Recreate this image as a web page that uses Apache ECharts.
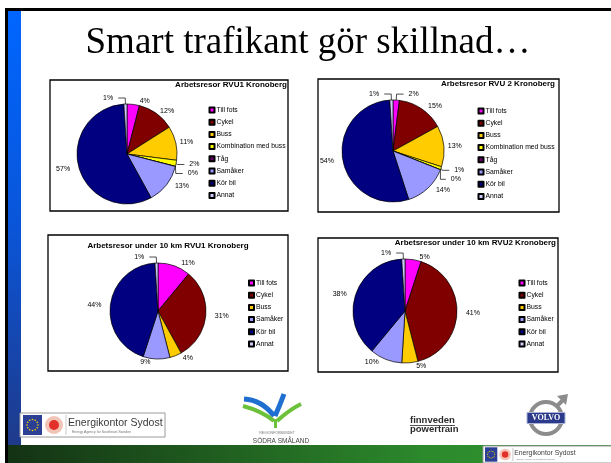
<!DOCTYPE html>
<html>
<head>
<meta charset="utf-8">
<script src="https://cdn.jsdelivr.net/npm/echarts@6/dist/echarts.min.js"></script>
<style>
  html, body { margin: 0; padding: 0; background: #fff; }
  #slide { width: 611px; height: 463px; }
</style>
</head>
<body>
<div id="slide"></div>
<script>
// Texter
const slideTitle = 'Smart trafikant gör skillnad…'
const chartTitles = [
  'Arbetsresor RVU1 Kronoberg',
  'Arbetsresor RVU 2 Kronoberg',
  'Arbetsresor under 10 km RVU1 Kronoberg',
  'Arbetsresor under 10 km RVU2 Kronoberg'
]

// Kategorier
const modesAll = ['Till fots', 'Cykel', 'Buss', 'Kombination med buss', 'Tåg', 'Samåker', 'Kör bil', 'Annat']
const modesShort = ['Till fots', 'Cykel', 'Buss', 'Samåker', 'Kör bil', 'Annat']

// Andelar i procent
const rvu1All = [4, 12, 11, 2, 0, 13, 57, 1]
const rvu2All = [2, 15, 13, 1, 0, 14, 54, 1]
const rvu1Short = [11, 31, 4, 9, 44, 1]
const rvu2Short = [5, 41, 5, 10, 38, 1]

const modeColors = {
  'Till fots': '#ff00ff',
  'Cykel': '#800000',
  'Buss': '#ffcc00',
  'Kombination med buss': '#ffff00',
  'Tåg': '#660066',
  'Samåker': '#9999ff',
  'Kör bil': '#000080',
  'Annat': '#ccccff'
}

const sans = 'Liberation Sans, Arial, sans-serif'

const makeData = (names, values) => names.map((name, i) => ({
  name,
  value: values[i],
  itemStyle: { color: modeColors[name] },
  labelLine: values[i] <= 2
    ? { show: true, length: 6, length2: 7 }
    : { show: false, length: 3, length2: 1 }
}))

const makePie = (center, radius, names, values) => ({
  type: 'pie',
  center,
  radius,
  startAngle: 90,
  clockwise: true,
  data: makeData(names, values),
  itemStyle: { borderColor: '#000', borderWidth: 0.7 },
  label: {
    position: 'outside',
    formatter: '{c}%',
    fontSize: 7,
    fontFamily: sans,
    color: '#000'
  },
  labelLine: { lineStyle: { color: '#000', width: 0.7 } },
  emphasis: { disabled: true },
  silent: true
})

const makeLegend = (left, top, names) => ({
  orient: 'vertical',
  left,
  top,
  padding: 0,
  data: names,
  icon: 'rect',
  itemWidth: 5,
  itemHeight: 5,
  itemGap: 2.2,
  selectedMode: false,
  textStyle: { fontSize: 6.8, fontFamily: sans, color: '#000', lineHeight: 10, padding: [0, 0, 0, -3] }
})

const chartTitleStyle = { fontSize: 8, fontWeight: 'bold', fontFamily: sans, color: '#000' }

// Energikontor-logga (EU-flagga, röd cirkel, text)
const energiLogo = (x, y, w, h, s) => {
  const items = []
  items.push({ type: 'rect', shape: { x, y, width: w, height: h }, style: { fill: '#fff', stroke: '#9a9a9a', lineWidth: 1 } })
  const fx = x + 3 * s, fy = y + 2 * s, fw = 19 * s, fh = h - 4 * s
  items.push({ type: 'rect', shape: { x: fx, y: fy, width: fw, height: fh }, style: { fill: '#2b3f95' } })
  for (let k = 0; k < 12; k++) {
    const a = k * Math.PI / 6
    items.push({ type: 'circle', shape: { cx: fx + fw / 2 + Math.cos(a) * 5.5 * s, cy: fy + fh / 2 + Math.sin(a) * 5.5 * s, r: 0.8 * s }, style: { fill: '#ffd800' } })
  }
  const cx = fx + fw + 12 * s, cy = y + h / 2
  items.push({ type: 'circle', shape: { cx, cy, r: 9 * s }, style: { fill: '#f2c4b6' } })
  items.push({ type: 'circle', shape: { cx, cy, r: 5 * s }, style: { fill: '#e2302b' } })
  items.push({ type: 'line', shape: { x1: cx + 12 * s, y1: y + 2, x2: cx + 12 * s, y2: y + h - 2 }, style: { stroke: '#bbb', lineWidth: 0.8 } })
  items.push({ type: 'text', x: cx + 14 * s, y: cy - 2 * s, style: { text: 'Energikontor Sydost', fill: '#3a3a3a', fontSize: 10.5 * s, fontFamily: sans, verticalAlign: 'middle' } })
  items.push({ type: 'text', x: cx + 18 * s, y: cy + 7 * s, style: { text: 'Energy Agency for Southeast Sweden', fill: '#777', fontSize: 3.5 * s, fontFamily: sans, verticalAlign: 'middle' } })
  return items
}

const chart = echarts.init(document.getElementById('slide'), null, { renderer: 'canvas' })

const graphics = [
  // ram och färgband
  { type: 'rect', shape: { x: 5, y: 8, width: 606, height: 3 }, style: { fill: '#000' } },
  { type: 'rect', shape: { x: 5, y: 8, width: 3, height: 455 }, style: { fill: '#000' } },
  {
    type: 'rect', shape: { x: 8, y: 11, width: 13, height: 434 },
    style: { fill: new echarts.graphic.LinearGradient(0, 0, 0, 1, [{ offset: 0, color: '#0066ff' }, { offset: 0.5, color: '#0a55d8' }, { offset: 1, color: '#1f3a8a' }]) }
  },
  {
    type: 'rect', shape: { x: 8, y: 445, width: 603, height: 18 },
    style: { fill: new echarts.graphic.LinearGradient(0, 0, 1, 0, [{ offset: 0, color: '#143214' }, { offset: 0.7, color: '#2c8a2c' }, { offset: 1, color: '#32952f' }]) }
  },
  // diagramramar
  { type: 'rect', z: -1, shape: { x: 50, y: 80, width: 238, height: 131 }, style: { fill: '#fff', stroke: '#000', lineWidth: 1.3 } },
  { type: 'rect', z: -1, shape: { x: 318, y: 79, width: 241, height: 133 }, style: { fill: '#fff', stroke: '#000', lineWidth: 1.3 } },
  { type: 'rect', z: -1, shape: { x: 48, y: 235, width: 240, height: 136 }, style: { fill: '#fff', stroke: '#000', lineWidth: 1.3 } },
  { type: 'rect', z: -1, shape: { x: 318, y: 238, width: 240, height: 134 }, style: { fill: '#fff', stroke: '#000', lineWidth: 1.3 } },
  // Södra Småland
  { type: 'bezierCurve', shape: { x1: 244, y1: 399, x2: 274, y2: 416, cpx1: 262, cpy1: 400 }, style: { stroke: '#1f6fd0', lineWidth: 5, fill: null } },
  { type: 'bezierCurve', shape: { x1: 284, y1: 394, x2: 275, y2: 416, cpx1: 280, cpy1: 405 }, style: { stroke: '#1f6fd0', lineWidth: 5, fill: null } },
  { type: 'bezierCurve', shape: { x1: 243, y1: 406, x2: 274, y2: 421, cpx1: 262, cpy1: 411 }, style: { stroke: '#6cc13a', lineWidth: 4, fill: null } },
  { type: 'bezierCurve', shape: { x1: 301, y1: 404, x2: 277, y2: 421, cpx1: 289, cpy1: 410 }, style: { stroke: '#6cc13a', lineWidth: 4, fill: null } },
  { type: 'line', shape: { x1: 275.5, y1: 419, x2: 275.5, y2: 428 }, style: { stroke: '#6cc13a', lineWidth: 3 } },
  { type: 'text', x: 277, y: 433, style: { text: 'REGIONFÖRBUNDET', fill: '#777', fontSize: 3.5, fontFamily: sans, align: 'center', verticalAlign: 'middle' } },
  { type: 'text', x: 281, y: 441, style: { text: 'SÖDRA SMÅLAND', fill: '#444', fontSize: 6.5, fontFamily: sans, align: 'center', verticalAlign: 'middle' } },
  // finnveden powertrain
  { type: 'text', x: 410, y: 420.5, style: { text: 'finnveden', fill: '#2a2a2a', fontSize: 9.5, fontWeight: 'bold', fontFamily: sans, verticalAlign: 'middle' } },
  { type: 'line', shape: { x1: 410, y1: 425.5, x2: 455, y2: 425.5 }, style: { stroke: '#2a2a2a', lineWidth: 0.8 } },
  { type: 'text', x: 410, y: 429.5, style: { text: 'powertrain', fill: '#2a2a2a', fontSize: 9.5, fontWeight: 'bold', fontFamily: sans, verticalAlign: 'middle' } },
  // Volvo
  { type: 'circle', shape: { cx: 546, cy: 418, r: 16 }, style: { fill: null, stroke: '#8c8c8c', lineWidth: 4 } },
  { type: 'line', shape: { x1: 557, y1: 406, x2: 563, y2: 400 }, style: { stroke: '#8c8c8c', lineWidth: 4 } },
  { type: 'polygon', shape: { points: [[568, 394], [557, 396], [566, 405]] }, style: { fill: '#8c8c8c' } },
  { type: 'rect', shape: { x: 527, y: 412.5, width: 38, height: 11 }, style: { fill: '#2b3a8a', stroke: '#aab3d6', lineWidth: 1 } },
  { type: 'text', x: 546, y: 418, style: { text: 'VOLVO', fill: '#fff', fontSize: 8, fontWeight: 'bold', fontFamily: 'Liberation Serif, serif', align: 'center', verticalAlign: 'middle' } },
  ...energiLogo(20, 413, 145, 24, 1),
  ...energiLogo(483, 446, 140, 17, 0.65)
]

const option = {
  backgroundColor: '#fff',
  animation: false,
  title: [
    {
      text: slideTitle, left: 308, top: 25, textAlign: 'center', padding: 0,
      textStyle: { fontSize: 37, fontWeight: 'normal', fontFamily: 'Liberation Serif, Times New Roman, serif', color: '#000' }
    },
    { text: chartTitles[0], right: 324, top: 81, padding: 0, textStyle: chartTitleStyle },
    { text: chartTitles[1], right: 56, top: 80, padding: 0, textStyle: chartTitleStyle },
    { text: chartTitles[2], left: 168, top: 242, textAlign: 'center', padding: 0, textStyle: chartTitleStyle },
    { text: chartTitles[3], right: 55, top: 239, padding: 0, textStyle: chartTitleStyle }
  ],
  legend: [
    makeLegend(208.5, 105, modesAll),
    makeLegend(477.5, 106, modesAll),
    makeLegend(248, 278, modesShort),
    makeLegend(518.5, 278, modesShort)
  ],
  graphic: graphics,
  series: [
    makePie([127, 154], 50, modesAll, rvu1All),
    makePie([393, 151], 51, modesAll, rvu2All),
    makePie([158, 311], 48, modesShort, rvu1Short),
    makePie([405, 311], 52, modesShort, rvu2Short)
  ]
}

chart.setOption(option)
</script>
</body>
</html>
